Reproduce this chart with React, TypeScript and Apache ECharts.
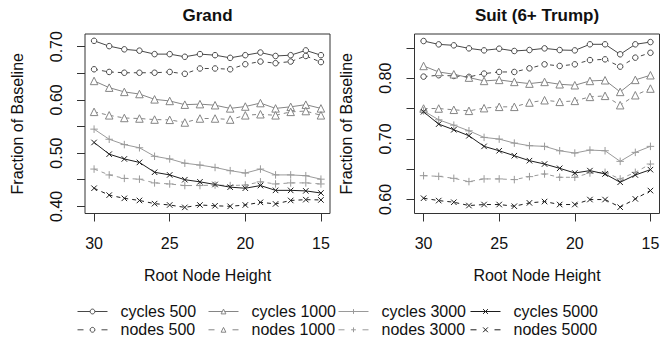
import React, { useEffect, useRef } from "react";
import * as echarts from "echarts";

const heights = [30, 29, 28, 27, 26, 25, 24, 23, 22, 21, 20, 19, 18, 17, 16, 15];

// Grand panel
const grandCycles500 = [0.711, 0.701, 0.695, 0.6925, 0.686, 0.686, 0.681, 0.686, 0.684, 0.679, 0.684, 0.689, 0.6825, 0.684, 0.693, 0.684];
const grandNodes500 = [0.6575, 0.6525, 0.651, 0.651, 0.651, 0.6525, 0.649, 0.659, 0.659, 0.6575, 0.667, 0.672, 0.669, 0.672, 0.6825, 0.671];
const grandCycles1000 = [0.6356, 0.623, 0.615, 0.611, 0.601, 0.598, 0.591, 0.592, 0.59, 0.584, 0.5875, 0.594, 0.584, 0.587, 0.591, 0.584];
const grandNodes1000 = [0.5775, 0.571, 0.566, 0.565, 0.563, 0.5625, 0.5575, 0.565, 0.565, 0.563, 0.571, 0.573, 0.571, 0.5775, 0.579, 0.571];
const grandCycles3000 = [0.545, 0.526, 0.516, 0.51, 0.494, 0.489, 0.481, 0.4775, 0.473, 0.467, 0.4625, 0.47, 0.459, 0.459, 0.4575, 0.451];
const grandNodes3000 = [0.47, 0.459, 0.4525, 0.451, 0.444, 0.442, 0.439, 0.439, 0.44, 0.439, 0.44, 0.446, 0.442, 0.444, 0.444, 0.442];
const grandCycles5000 = [0.52, 0.498, 0.489, 0.4825, 0.464, 0.459, 0.45, 0.446, 0.441, 0.436, 0.434, 0.439, 0.43, 0.43, 0.429, 0.425];
const grandNodes5000 = [0.434, 0.421, 0.415, 0.411, 0.405, 0.4025, 0.398, 0.4025, 0.401, 0.4, 0.4025, 0.4075, 0.4045, 0.411, 0.4125, 0.412];

// Suit panel
const suitCycles500 = [0.8614, 0.8559, 0.8543, 0.8493, 0.846, 0.8488, 0.845, 0.8466, 0.8493, 0.8466, 0.846, 0.856, 0.856, 0.8395, 0.856, 0.8597];
const suitNodes500 = [0.8027, 0.805, 0.8038, 0.8022, 0.8077, 0.8104, 0.8104, 0.8164, 0.823, 0.8203, 0.823, 0.83, 0.8312, 0.8192, 0.834, 0.842];
const suitCycles1000 = [0.8203, 0.8104, 0.8066, 0.8011, 0.7956, 0.7973, 0.794, 0.7912, 0.794, 0.7901, 0.7885, 0.7956, 0.7967, 0.7775, 0.7973, 0.805];
const suitNodes1000 = [0.7501, 0.7501, 0.748, 0.7463, 0.7507, 0.7529, 0.7529, 0.76, 0.7638, 0.7611, 0.7627, 0.7693, 0.771, 0.7556, 0.772, 0.783];
const suitCycles3000 = [0.7463, 0.7315, 0.7227, 0.7134, 0.7025, 0.6997, 0.6931, 0.6888, 0.6877, 0.6805, 0.6767, 0.6816, 0.6805, 0.663, 0.6778, 0.6877];
const suitNodes3000 = [0.6394, 0.6383, 0.635, 0.6296, 0.634, 0.634, 0.6329, 0.6378, 0.6422, 0.6367, 0.6367, 0.6438, 0.6449, 0.634, 0.6449, 0.6586];
const suitCycles5000 = [0.7447, 0.7244, 0.7151, 0.7052, 0.6877, 0.6805, 0.6723, 0.6641, 0.6586, 0.6515, 0.6438, 0.6477, 0.6422, 0.6285, 0.6405, 0.6493];
const suitNodes5000 = [0.6022, 0.5983, 0.5956, 0.5901, 0.5918, 0.5918, 0.589, 0.5945, 0.5967, 0.5918, 0.5918, 0.6, 0.6, 0.5874, 0.6011, 0.6148];

const seriesNames = ["cycles 500", "nodes 500", "cycles 1000", "nodes 1000", "cycles 3000", "nodes 3000", "cycles 5000", "nodes 5000"];
const grandData = [grandCycles500, grandNodes500, grandCycles1000, grandNodes1000, grandCycles3000, grandNodes3000, grandCycles5000, grandNodes5000];
const suitData = [suitCycles500, suitNodes500, suitCycles1000, suitNodes1000, suitCycles3000, suitNodes3000, suitCycles5000, suitNodes5000];
const panelTitles = ["Grand", "Suit (6+ Trump)"];
const xTicks = [15, 20, 25, 30];
const grandYTicks = [0.4, 0.45, 0.5, 0.55, 0.6, 0.65, 0.7];
const grandYLabels = [0.4, 0.5, 0.6, 0.7];
const suitYTicks = [0.6, 0.65, 0.7, 0.75, 0.8, 0.85];
const suitYLabels = [0.6, 0.7, 0.8];

const FONT = "'Liberation Sans', Arial, Helvetica, sans-serif";
const colors = ["#484848", "#484848", "#858585", "#858585", "#9a9a9a", "#9a9a9a", "#1e1e1e", "#1e1e1e"];
const PLUS = "path://M0,5L10,5M5,0L5,10";
const CROSS = "path://M0,0L10,10M10,0L0,10";
const symbols = ["circle", "circle", "triangle", "triangle", PLUS, PLUS, CROSS, CROSS];
const symbolSizes = [5.5, 5.5, 7.5, 7.5, 7.5, 7.5, 5.5, 5.5];

export default function App() {
  const ref = useRef<HTMLDivElement>(null);
  useEffect(() => {
    if (!ref.current) return;
    const chart = echarts.init(ref.current, null, { renderer: "svg" });

    const grids = [
      { left: 85, top: 34, width: 245, height: 179.5 },
      { left: 414.5, top: 34, width: 245, height: 179.5 },
    ].map((g) => ({ ...g, show: true, borderColor: "#333", borderWidth: 1, backgroundColor: "transparent", containLabel: false }));

    const xAxes = [0, 1].map((i) => ({
      type: "value",
      gridIndex: i,
      min: 14.4,
      max: 30.6,
      inverse: true,
      name: "Root Node Height",
      nameLocation: "middle",
      nameGap: 54,
      nameTextStyle: { fontFamily: FONT, fontSize: 16, color: "#111" },
      splitLine: { show: false },
      axisLine: { show: false },
      axisTick: { show: true, length: 8, customValues: xTicks, lineStyle: { color: "#333" } },
      axisLabel: { show: true, customValues: xTicks, margin: 21.5, fontFamily: FONT, fontSize: 16, color: "#111" },
    }));

    const yRanges = [
      { min: 0.3865, max: 0.7238, ticks: grandYTicks, labels: grandYLabels },
      { min: 0.577, max: 0.873, ticks: suitYTicks, labels: suitYLabels },
    ];
    const yAxes = yRanges.map((r, i) => ({
      type: "value",
      gridIndex: i,
      min: r.min,
      max: r.max,
      name: "Fraction of Baseline",
      nameLocation: "middle",
      nameGap: 60,
      nameTextStyle: { fontFamily: FONT, fontSize: 16, color: "#111" },
      splitLine: { show: false },
      axisLine: { show: false },
      axisTick: { show: true, length: 8, customValues: r.ticks, lineStyle: { color: "#333" } },
      axisLabel: {
        show: true,
        customValues: r.labels,
        rotate: 90,
        margin: 21,
        fontFamily: FONT,
        fontSize: 16,
        color: "#111",
        formatter: (v: number) => v.toFixed(2),
      },
    }));

    const series: any[] = [];
    [grandData, suitData].forEach((panel, p) => {
      panel.forEach((vals, k) => {
        const dashed = k % 2 === 1;
        series.push({
          type: "line",
          name: seriesNames[k],
          xAxisIndex: p,
          yAxisIndex: p,
          data: heights.map((h, j) => [h, vals[j]]),
          symbol: symbols[k],
          symbolSize: symbolSizes[k],
          showSymbol: true,
          itemStyle: { color: "#ffffff", borderColor: colors[k], borderWidth: 1 },
          lineStyle: { color: colors[k], width: 1, type: dashed ? [4, 4] : "solid" },
          emphasis: { disabled: true },
          z: 2,
        });
      });
    });

    const legendLefts = [77, 208, 338, 470];
    const legends = [0, 1, 2, 3].map((c) => ({
      orient: "vertical",
      left: legendLefts[c],
      top: 303.5,
      itemWidth: 30,
      itemHeight: 6,
      itemGap: 2.3,
      padding: 0,
      data: [0, 1].map((r) => {
        const k = c * 2 + r;
        return {
          name: seriesNames[k],
          itemStyle: { color: "#ffffff", borderColor: colors[k], borderWidth: 1 },
          lineStyle: { color: colors[k], width: 1, type: r === 1 ? [6, 18] : "solid" },
        };
      }),
      textStyle: { fontFamily: FONT, fontSize: 16, color: "#111", lineHeight: 16, padding: [0, 0, 0, 8] },
    }));

    const titleStyle = { fontFamily: FONT, fontSize: 17, fontWeight: "bold", color: "#111" };
    chart.setOption({
      animation: false,
      backgroundColor: "#fff",
      title: [
        { text: panelTitles[0], left: 207.5, top: 7, padding: 0, textAlign: "center", textStyle: titleStyle },
        { text: panelTitles[1], left: 537, top: 7, padding: 0, textAlign: "center", textStyle: titleStyle },
      ],
      legend: legends,
      grid: grids,
      xAxis: xAxes,
      yAxis: yAxes,
      series,
    });
    return () => chart.dispose();
  }, []);
  return <div ref={ref} style={{ position: "absolute", left: 0, top: 0, width: 667, height: 341 }} />;
}
